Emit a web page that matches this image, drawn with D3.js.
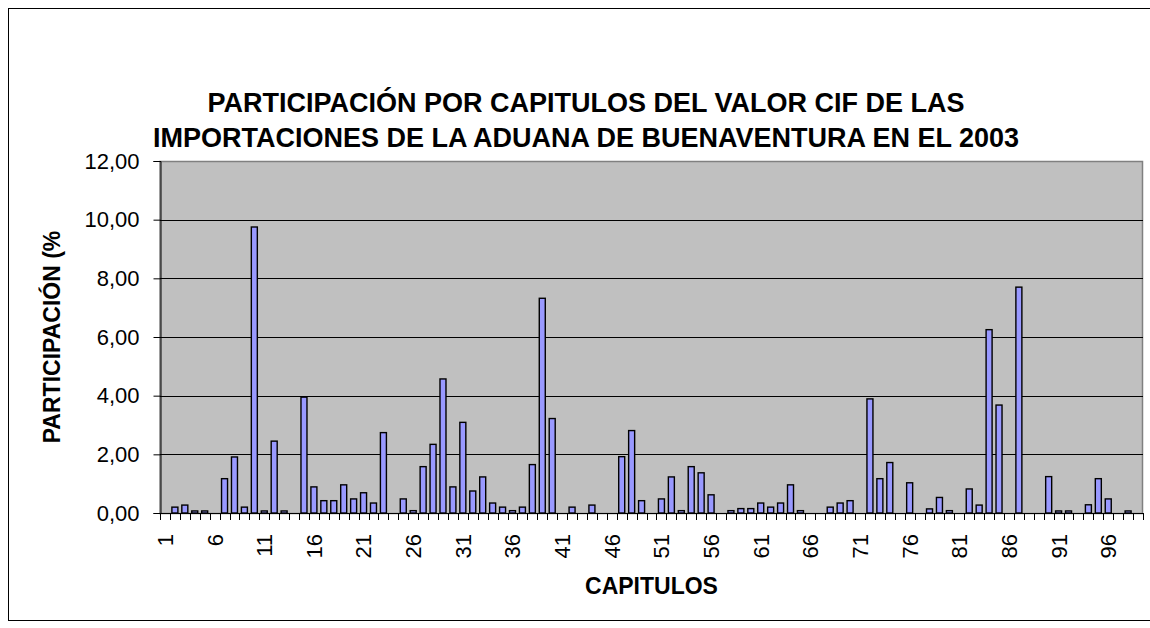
<!DOCTYPE html>
<html>
<head>
<meta charset="utf-8">
<script src="https://cdn.jsdelivr.net/npm/d3@7/dist/d3.min.js"></script>
<style>
  html, body { margin: 0; padding: 0; background: #ffffff; }
  svg { display: block; font-family: "Liberation Sans", Arial, sans-serif; }
</style>
</head>
<body>
<svg id="chart" width="1150" height="628"></svg>
<script>
// ---- DATA ----
const titleLines = [
  "PARTICIPACIÓN POR CAPITULOS DEL VALOR CIF DE LAS",
  "IMPORTACIONES DE LA ADUANA DE BUENAVENTURA EN EL 2003"
];
const xAxisTitle = "CAPITULOS";
const yAxisTitle = "PARTICIPACIÓN (%";
const capitulos = d3.range(1, 100);
const participacion = [
  0, 0.20, 0.27, 0.07, 0.07, 0, 1.17, 1.91, 0.20, 9.75,
  0.07, 2.45, 0.07, 0, 3.95, 0.89, 0.42, 0.42, 0.96, 0.48,
  0.69, 0.34, 2.74, 0, 0.48, 0.08, 1.58, 2.34, 4.57, 0.89,
  3.09, 0.75, 1.23, 0.34, 0.20, 0.08, 0.20, 1.65, 7.32, 3.22,
  0, 0.20, 0, 0.27, 0, 0, 1.92, 2.81, 0.42, 0,
  0.48, 1.23, 0.08, 1.58, 1.37, 0.62, 0, 0.08, 0.15, 0.15,
  0.34, 0.20, 0.34, 0.96, 0.08, 0, 0, 0.20, 0.34, 0.42,
  0, 3.89, 1.17, 1.72, 0, 1.03, 0, 0.14, 0.53, 0.08,
  0, 0.82, 0.27, 6.25, 3.68, 0, 7.70, 0, 0, 1.24,
  0.07, 0.07, 0, 0.28, 1.17, 0.48, 0, 0.07, 0
];
const yTicks = [0, 2, 4, 6, 8, 10, 12];
const xLabelEvery = 5;

// ---- LAYOUT ----
const svg = d3.select("#chart");
const plot = { left: 160, right: 1143, top: 161, bottom: 513 };

// outer frame
svg.append("rect")
  .attr("x", 8.5).attr("y", 8.5)
  .attr("width", 1160).attr("height", 612)
  .attr("fill", "none").attr("stroke", "#000").attr("stroke-width", 1);

const xStep = d3.scaleBand().domain(capitulos).range([plot.left, plot.right]);
const y = d3.scaleLinear().domain([0, 12]).range([plot.bottom, plot.top]);

// plot background
svg.append("rect")
  .attr("x", plot.left).attr("y", plot.top + 0.5)
  .attr("width", plot.right - plot.left - 0.5).attr("height", plot.bottom - plot.top)
  .attr("fill", "#C0C0C0")
  .attr("stroke", "#808080").attr("stroke-width", 1.5);

// gridlines
svg.append("g").selectAll("line").data(yTicks.filter(d => d > 0 && d < 12)).join("line")
  .attr("x1", plot.left).attr("x2", plot.right)
  .attr("y1", d => Math.round(y(d)) + 0.5).attr("y2", d => Math.round(y(d)) + 0.5)
  .attr("stroke", "#000").attr("stroke-width", 1);

// bars
const barW = 6;
svg.append("g").selectAll("rect")
  .data(capitulos.map((c, i) => ({ c, v: participacion[i] })).filter(d => d.v > 0))
  .join("rect")
  .attr("x", d => xStep(d.c) + xStep.bandwidth() / 2 - barW / 2)
  .attr("y", d => y(d.v))
  .attr("width", barW)
  .attr("height", d => y(0) - y(d.v))
  .attr("fill", "#9999FF")
  .attr("stroke", "#000").attr("stroke-width", 1.4);

// y axis
const yAxis = d3.axisLeft(y).tickValues(yTicks).tickSize(7).tickPadding(14)
  .tickFormat(d => d3.format(".2f")(d).replace(".", ","));
const gy = svg.append("g").attr("transform", `translate(${plot.left + 0.5},0)`).call(yAxis);
gy.select(".domain").attr("stroke", "#000");
gy.selectAll(".tick line").attr("stroke", "#000");
gy.selectAll(".tick text").attr("font-size", 22).attr("fill", "#000")
  .attr("font-family", "'Liberation Sans', Arial, sans-serif");

// x axis: tick marks between categories
const gx = svg.append("g");
gx.append("line")
  .attr("x1", plot.left).attr("x2", plot.right)
  .attr("y1", plot.bottom + 0.5).attr("y2", plot.bottom + 0.5)
  .attr("stroke", "#000");
gx.selectAll("line.tk").data(capitulos.concat([100])).join("line")
  .attr("class", "tk")
  .attr("x1", (d, i) => Math.round(plot.left + i * xStep.step()) + 0.5)
  .attr("x2", (d, i) => Math.round(plot.left + i * xStep.step()) + 0.5)
  .attr("y1", plot.bottom).attr("y2", plot.bottom + 7)
  .attr("stroke", "#000");
gx.selectAll("text").data(capitulos.filter((d, i) => i % xLabelEvery === 0)).join("text")
  .attr("transform", d => `translate(${xStep(d) + xStep.bandwidth() / 2},534) rotate(-90)`)
  .attr("text-anchor", "end")
  .attr("dy", "0.36em")
  .attr("font-size", 22)
  .attr("fill", "#000")
  .text(d => d);

// titles
svg.append("g").selectAll("text").data(titleLines).join("text")
  .attr("x", 586).attr("y", (d, i) => 112 + i * 35)
  .attr("text-anchor", "middle")
  .attr("font-size", 27).attr("font-weight", "bold")
  .text(d => d);

svg.append("text")
  .attr("x", (plot.left + plot.right) / 2).attr("y", 594)
  .attr("text-anchor", "middle")
  .attr("font-size", 23).attr("font-weight", "bold")
  .text(xAxisTitle);

svg.append("text")
  .attr("transform", `translate(60,${(plot.top + plot.bottom) / 2}) rotate(-90)`)
  .attr("text-anchor", "middle")
  .attr("font-size", 23).attr("font-weight", "bold")
  .text(yAxisTitle);
</script>
</body>
</html>
